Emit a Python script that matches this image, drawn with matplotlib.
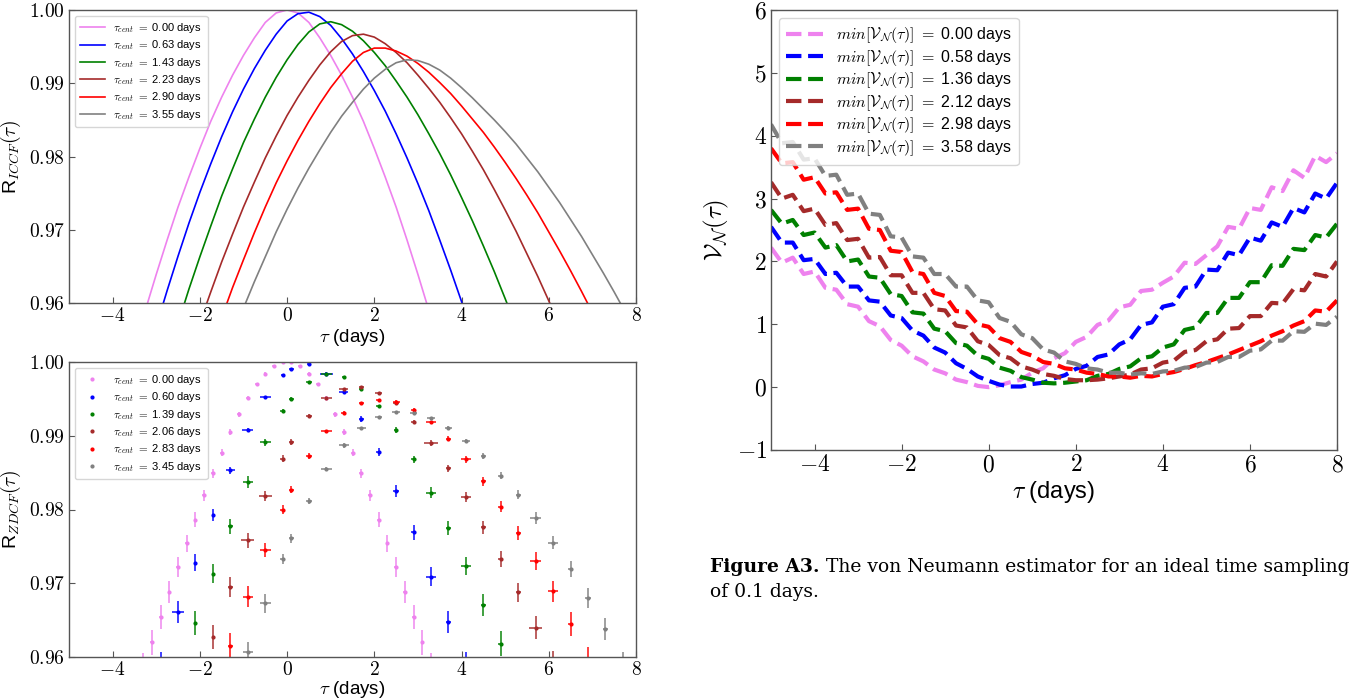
import numpy as np
import matplotlib
matplotlib.use("Agg")
import matplotlib.pyplot as plt
from matplotlib.ticker import FuncFormatter
from matplotlib.lines import Line2D

plt.rcParams['mathtext.fontset'] = 'cm'
plt.rcParams['font.family'] = ['Liberation Sans', 'DejaVu Sans']

colors = ['violet', 'blue', 'green', 'brown', 'red', 'gray']

# ---------------- ICCF (top-left) ----------------
iccf_labels = ['0.00', '0.63', '1.43', '2.23', '2.90', '3.55']
iccf_x_pink = [-3.5, -3.25, -3.0, -2.75, -2.5, -2.25, -2.0, -1.75, -1.5, -1.25, -1.0, -0.75, -0.5, -0.25,
               0.0, 0.25, 0.5, 0.75, 1.0, 1.25, 1.5, 1.75, 2.0, 2.25, 2.5, 2.75, 3.0, 3.25, 3.5]
iccf_y_pink = [0.9538, 0.9590, 0.9639, 0.9686, 0.9731, 0.9772, 0.9811, 0.9848, 0.9881, 0.9911, 0.9938, 0.9962, 0.9983, 0.9996,
               1.0000, 0.9996, 0.9983, 0.9962, 0.9938, 0.9911, 0.9881, 0.9848, 0.9811, 0.9772, 0.9731, 0.9686, 0.9639, 0.9590, 0.9538]
iccf_x_blue = [-3.0, -2.75, -2.5, -2.25, -2.0, -1.75, -1.5, -1.25, -1.0, -0.75, -0.5, -0.25, 0.0, 0.25, 0.5, 0.75,
               1.0, 1.25, 1.5, 1.75, 2.0, 2.25, 2.5, 2.75, 3.0, 3.25, 3.5, 3.75, 4.0, 4.25]
iccf_y_blue = [0.9568, 0.9617, 0.9664, 0.9709, 0.9751, 0.9790, 0.9827, 0.9861, 0.9892, 0.9920, 0.9945, 0.9967, 0.9985, 0.9995, 0.9997, 0.9991,
               0.9979, 0.9961, 0.9940, 0.9916, 0.9890, 0.9862, 0.9831, 0.9798, 0.9763, 0.9726, 0.9686, 0.9645, 0.9602, 0.9557]
iccf_x_green = [-2.5, -2.25, -2.0, -1.75, -1.5, -1.25, -1.0, -0.75, -0.5, -0.25, 0.0, 0.25, 0.5, 0.75, 1.0,
                1.25, 1.5, 1.75, 2.0, 2.25, 2.5, 2.75, 3.0, 3.25, 3.5, 3.75, 4.0, 4.25, 4.5, 4.75, 5.0, 5.25]
iccf_y_green = [0.9572, 0.9619, 0.9663, 0.9705, 0.9746, 0.9783, 0.9819, 0.9851, 0.9881, 0.9908, 0.9932, 0.9953, 0.9970, 0.9981, 0.9984,
                0.9980, 0.9971, 0.9958, 0.9942, 0.9924, 0.9903, 0.9881, 0.9857, 0.9831, 0.9804, 0.9775, 0.9744, 0.9712, 0.9678, 0.9643, 0.9606, 0.9568]
iccf_x_brown = [-2.0, -1.75, -1.5, -1.25, -1.0, -0.75, -0.5, -0.25, 0.0, 0.25, 0.5, 0.75, 1.0, 1.25, 1.5,
                1.75, 2.0, 2.25, 2.5, 2.75, 3.0, 3.25, 3.5, 3.75, 4.0, 4.25, 4.5, 4.75, 5.0, 5.25, 5.5, 5.75, 6.0, 6.25]
iccf_y_brown = [0.9573, 0.9615, 0.9656, 0.9694, 0.9731, 0.9765, 0.9798, 0.9828, 0.9856, 0.9881, 0.9904, 0.9925, 0.9943, 0.9957, 0.9965,
                0.9967, 0.9963, 0.9954, 0.9942, 0.9928, 0.9911, 0.9893, 0.9874, 0.9853, 0.9831, 0.9807, 0.9782, 0.9755, 0.9727, 0.9698, 0.9667, 0.9636, 0.9603, 0.9569]
iccf_x_red = [-1.5, -1.25, -1.0, -0.75, -0.5, -0.25, 0.0, 0.25, 0.5, 0.75, 1.0, 1.25, 1.5, 1.75, 2.0,
              2.25, 2.5, 2.75, 3.0, 3.25, 3.5, 3.75, 4.0, 4.25, 4.5, 4.75, 5.0, 5.25, 5.5, 5.75, 6.0, 6.25, 6.5, 6.75, 7.0, 7.25]
iccf_y_red = [0.9580, 0.9621, 0.9659, 0.9696, 0.9731, 0.9764, 0.9794, 0.9822, 0.9848, 0.9872, 0.9894, 0.9913, 0.9930, 0.9942, 0.9948,
              0.9948, 0.9944, 0.9937, 0.9927, 0.9915, 0.9901, 0.9886, 0.9869, 0.9851, 0.9833, 0.9813, 0.9792, 0.9770, 0.9747, 0.9723, 0.9697, 0.9671, 0.9644, 0.9616, 0.9587, 0.9557]
iccf_x_gray = [-1.25, -1.0, -0.75, -0.5, -0.25, 0.0, 0.25, 0.5, 0.75, 1.0, 1.25, 1.5, 1.75, 2.0, 2.25, 2.5,
               2.75, 3.0, 3.25, 3.5, 3.75, 4.0, 4.25, 4.5, 4.75, 5.0, 5.25, 5.5, 5.75, 6.0, 6.25, 6.5, 6.75, 7.0, 7.25, 7.5, 7.75, 8.0]
iccf_y_gray = [0.9555, 0.9593, 0.9629, 0.9663, 0.9697, 0.9728, 0.9757, 0.9784, 0.9809, 0.9833, 0.9855, 0.9874, 0.9892, 0.9907, 0.9919, 0.9928,
               0.9932, 0.9931, 0.9926, 0.9918, 0.9907, 0.9894, 0.9880, 0.9865, 0.9850, 0.9834, 0.9817, 0.9798, 0.9779, 0.9758, 0.9737, 0.9714, 0.9691, 0.9666, 0.9641, 0.9615, 0.9588, 0.9560]

# ---------------- ZDCF (bottom-left) ----------------
zdcf_labels = ['0.00', '0.60', '1.39', '2.06', '2.83', '3.45']
z_x_pink = [-3.3, -3.1, -2.9, -2.7, -2.5, -2.3, -2.1, -1.9, -1.7, -1.5, -1.3, -1.1, -0.9, -0.7, -0.5, -0.3, -0.1,
            0.1, 0.3, 0.5, 0.7, 0.9, 1.1, 1.3, 1.5, 1.7, 1.9, 2.1, 2.3, 2.5, 2.7, 2.9, 3.1, 3.3]
z_y_pink = [0.9588, 0.9620, 0.9654, 0.9688, 0.9722, 0.9754, 0.9786, 0.9819, 0.9849, 0.9877, 0.9905, 0.9929, 0.9951, 0.9970, 0.9984, 0.9995, 1.0000,
            1.0000, 0.9995, 0.9984, 0.9970, 0.9951, 0.9929, 0.9905, 0.9877, 0.9849, 0.9819, 0.9786, 0.9754, 0.9722, 0.9688, 0.9654, 0.9620, 0.9588]
z_ye_pink = [0.0018, 0.0017, 0.0016, 0.0015, 0.0014, 0.0012, 0.0010, 0.0008, 0.0006, 0.0005, 0.0004, 0.0003, 0.0003, 0.0002, 0.0002, 0.0001, 0.0001,
             0.0001, 0.0001, 0.0002, 0.0002, 0.0003, 0.0003, 0.0004, 0.0005, 0.0006, 0.0008, 0.0010, 0.0012, 0.0014, 0.0015, 0.0016, 0.0017, 0.0018]
z_xe_pink = [0.04] * 34

z_x_blue = [-2.9, -2.5, -2.1, -1.7, -1.3, -0.9, -0.5, -0.1, 0.1, 0.5, 0.9, 1.3, 1.7, 2.1, 2.5, 2.9, 3.3, 3.7, 4.1]
z_y_blue = [0.9590, 0.9661, 0.9728, 0.9793, 0.9853, 0.9908, 0.9952, 0.9982, 0.9991, 0.9997, 0.9984, 0.9959, 0.9923, 0.9878, 0.9825, 0.9769, 0.9709, 0.9647, 0.9590]
z_ye_blue = [0.0017, 0.0015, 0.0012, 0.0008, 0.0005, 0.0003, 0.0002, 0.0001, 0.0001, 0.0001, 0.0002, 0.0003, 0.0004, 0.0006, 0.0008, 0.0010, 0.0013, 0.0015, 0.0017]
z_xe_blue = [0.05, 0.14, 0.02, 0.02, 0.10, 0.13, 0.13, 0.05, 0.05, 0.05, 0.15, 0.10, 0.06, 0.06, 0.06, 0.06, 0.12, 0.06, 0.06]

z_x_green = [-2.1, -1.7, -1.3, -0.9, -0.5, -0.1, 0.1, 0.5, 0.9, 1.3, 1.7, 2.1, 2.5, 2.9, 3.3, 3.7, 4.1, 4.5, 4.9]
z_y_green = [0.9646, 0.9713, 0.9777, 0.9837, 0.9891, 0.9934, 0.9950, 0.9973, 0.9984, 0.9979, 0.9963, 0.9940, 0.9908, 0.9868, 0.9823, 0.9775, 0.9723, 0.9671, 0.9618]
z_ye_green = [0.0016, 0.0013, 0.0010, 0.0008, 0.0005, 0.0002, 0.0002, 0.0001, 0.0001, 0.0001, 0.0001, 0.0002, 0.0004, 0.0005, 0.0007, 0.0009, 0.0012, 0.0015, 0.0017]
z_xe_green = [0.02, 0.02, 0.05, 0.12, 0.12, 0.06, 0.05, 0.06, 0.12, 0.05, 0.05, 0.05, 0.05, 0.06, 0.12, 0.05, 0.12, 0.05, 0.06]

z_x_brown = [-1.7, -1.3, -0.9, -0.5, -0.1, 0.1, 0.5, 0.9, 1.3, 1.7, 2.1, 2.5, 2.9, 3.3, 3.7, 4.1, 4.5, 4.9, 5.3, 5.7, 6.1]
z_y_brown = [0.9627, 0.9695, 0.9758, 0.9818, 0.9869, 0.9891, 0.9927, 0.9951, 0.9964, 0.9966, 0.9958, 0.9944, 0.9919, 0.9890, 0.9856, 0.9817, 0.9776, 0.9733, 0.9688, 0.9640, 0.9590]
z_ye_brown = [0.0016, 0.0013, 0.0010, 0.0007, 0.0005, 0.0004, 0.0002, 0.0001, 0.0001, 0.0001, 0.0001, 0.0002, 0.0003, 0.0004, 0.0005, 0.0007, 0.0009, 0.0011, 0.0013, 0.0016, 0.0018]
z_xe_brown = [0.02, 0.06, 0.15, 0.15, 0.06, 0.05, 0.06, 0.13, 0.10, 0.06, 0.08, 0.06, 0.06, 0.15, 0.06, 0.12, 0.05, 0.06, 0.06, 0.15, 0.06]

z_x_red = [-1.3, -0.9, -0.5, -0.1, 0.1, 0.5, 0.9, 1.3, 1.7, 2.1, 2.5, 2.9, 3.3, 3.7, 4.1, 4.5, 4.9, 5.3, 5.7, 6.1, 6.5, 6.9]
z_y_red = [0.9615, 0.9682, 0.9745, 0.9800, 0.9827, 0.9872, 0.9906, 0.9931, 0.9944, 0.9949, 0.9946, 0.9935, 0.9918, 0.9896, 0.9868, 0.9838, 0.9804, 0.9768, 0.9730, 0.9689, 0.9645, 0.9595]
z_ye_red = [0.0017, 0.0014, 0.0010, 0.0006, 0.0005, 0.0004, 0.0002, 0.0002, 0.0001, 0.0001, 0.0002, 0.0002, 0.0002, 0.0003, 0.0005, 0.0006, 0.0007, 0.0010, 0.0012, 0.0014, 0.0016, 0.0018]
z_xe_red = [0.06, 0.12, 0.12, 0.06, 0.05, 0.06, 0.13, 0.06, 0.06, 0.06, 0.08, 0.06, 0.12, 0.05, 0.12, 0.05, 0.06, 0.06, 0.12, 0.12, 0.06, 0.06]

z_x_gray = [-0.9, -0.5, -0.1, 0.1, 0.5, 0.9, 1.3, 1.7, 2.1, 2.5, 2.9, 3.3, 3.7, 4.1, 4.5, 4.9, 5.3, 5.7, 6.1, 6.5, 6.9, 7.3, 7.7]
z_y_gray = [0.9607, 0.9673, 0.9733, 0.9761, 0.9812, 0.9855, 0.9887, 0.9910, 0.9925, 0.9932, 0.9931, 0.9924, 0.9911, 0.9893, 0.9872, 0.9846, 0.9820, 0.9789, 0.9755, 0.9719, 0.9680, 0.9638, 0.9590]
z_ye_gray = [0.0013, 0.0013, 0.0007, 0.0006, 0.0004, 0.0002, 0.0003, 0.0002, 0.0002, 0.0001, 0.0001, 0.0002, 0.0002, 0.0003, 0.0004, 0.0005, 0.0006, 0.0008, 0.0009, 0.0011, 0.0013, 0.0015, 0.0017]
z_xe_gray = [0.12, 0.13, 0.06, 0.06, 0.06, 0.13, 0.12, 0.10, 0.08, 0.10, 0.08, 0.10, 0.08, 0.10, 0.05, 0.06, 0.06, 0.12, 0.12, 0.06, 0.06, 0.05, 0.05]

# ---------------- von Neumann (right) ----------------
vn_labels = ['0.00', '0.58', '1.36', '2.12', '2.98', '3.58']
vn_tau = [-5.0, -4.75, -4.5, -4.25, -4.0, -3.75, -3.5, -3.25, -3.0, -2.75, -2.5, -2.25, -2.0, -1.75, -1.5, -1.25,
          -1.0, -0.75, -0.5, -0.25, 0.0, 0.25, 0.5, 0.75, 1.0, 1.25, 1.5, 1.75, 2.0, 2.25, 2.5, 2.75, 3.0, 3.25,
          3.5, 3.75, 4.0, 4.25, 4.5, 4.75, 5.0, 5.25, 5.5, 5.75, 6.0, 6.25, 6.5, 6.75, 7.0, 7.25, 7.5, 7.75, 8.0]
vn_pink = [2.22, 1.98, 2.06, 1.80, 1.84, 1.58, 1.55, 1.32, 1.28, 1.05, 0.97, 0.75, 0.66, 0.49, 0.41, 0.28, 0.22, 0.12,
           0.08, 0.02, 0.00, 0.03, 0.08, 0.12, 0.23, 0.30, 0.46, 0.54, 0.72, 0.80, 0.99, 1.06, 1.27, 1.31, 1.53, 1.55,
           1.66, 1.76, 1.98, 1.96, 2.10, 2.24, 2.55, 2.52, 2.85, 2.82, 3.18, 3.12, 3.45, 3.33, 3.68, 3.58, 3.72]
vn_blue = [2.55, 2.30, 2.30, 2.02, 2.04, 1.80, 1.82, 1.60, 1.60, 1.38, 1.36, 1.14, 1.10, 0.90, 0.82, 0.63, 0.55, 0.38,
           0.29, 0.17, 0.10, 0.04, 0.01, 0.01, 0.05, 0.07, 0.14, 0.19, 0.29, 0.34, 0.48, 0.52, 0.68, 0.76, 0.99, 1.03,
           1.28, 1.32, 1.58, 1.60, 1.87, 1.86, 2.14, 2.10, 2.38, 2.33, 2.62, 2.55, 2.85, 2.78, 3.08, 3.00, 3.25]
vn_green = [2.82, 2.60, 2.66, 2.42, 2.46, 2.22, 2.26, 2.00, 2.03, 1.76, 1.74, 1.48, 1.45, 1.19, 1.17, 0.93, 0.89, 0.70,
            0.66, 0.50, 0.45, 0.31, 0.26, 0.16, 0.12, 0.07, 0.06, 0.07, 0.09, 0.11, 0.18, 0.21, 0.29, 0.33, 0.46, 0.49,
            0.63, 0.68, 0.91, 0.95, 1.18, 1.18, 1.42, 1.42, 1.67, 1.67, 1.94, 1.93, 2.20, 2.18, 2.42, 2.38, 2.60]
vn_brown = [3.26, 3.00, 3.06, 2.80, 2.84, 2.58, 2.61, 2.34, 2.36, 2.06, 2.07, 1.78, 1.78, 1.50, 1.50, 1.24, 1.22, 0.98,
            0.95, 0.73, 0.67, 0.51, 0.46, 0.33, 0.28, 0.21, 0.18, 0.13, 0.11, 0.11, 0.12, 0.14, 0.17, 0.20, 0.28, 0.30,
            0.39, 0.42, 0.56, 0.59, 0.73, 0.76, 0.93, 0.94, 1.13, 1.13, 1.34, 1.33, 1.56, 1.54, 1.80, 1.76, 2.00]
vn_red = [3.80, 3.56, 3.58, 3.30, 3.34, 3.08, 3.10, 2.82, 2.84, 2.52, 2.50, 2.17, 2.15, 1.83, 1.80, 1.50, 1.45, 1.21,
          1.20, 1.00, 0.96, 0.78, 0.72, 0.56, 0.50, 0.40, 0.37, 0.30, 0.28, 0.23, 0.21, 0.17, 0.17, 0.15, 0.18, 0.17,
          0.21, 0.24, 0.29, 0.35, 0.40, 0.46, 0.52, 0.59, 0.66, 0.73, 0.82, 0.89, 0.98, 1.05, 1.22, 1.20, 1.38]
vn_gray = [4.18, 3.88, 3.90, 3.62, 3.64, 3.36, 3.38, 3.06, 3.08, 2.76, 2.74, 2.40, 2.38, 2.08, 2.06, 1.80, 1.80, 1.60,
           1.60, 1.38, 1.35, 1.10, 1.04, 0.84, 0.78, 0.60, 0.55, 0.41, 0.37, 0.30, 0.28, 0.23, 0.23, 0.20, 0.22, 0.21,
           0.25, 0.26, 0.31, 0.32, 0.39, 0.40, 0.48, 0.48, 0.58, 0.60, 0.74, 0.74, 0.89, 0.88, 1.01, 0.99, 1.12]

caption_bold = 'Figure A3.'
caption_rest1 = ' The von Neumann estimator for an ideal time sampling'
caption_rest2 = 'of 0.1 days.'

# ---------------- figure ----------------
W, H = 1367, 700
fig = plt.figure(figsize=(W / 100, H / 100), dpi=100)

def px_axes(l, t, r, b):
    return fig.add_axes([l / W, 1 - b / H, (r - l) / W, (b - t) / H])

ax1 = px_axes(69, 10, 636, 303)
ax2 = px_axes(69, 362, 636, 657)
ax3 = px_axes(771, 10, 1337, 450)

spine_col = '#555555'
mfmt2 = FuncFormatter(lambda v, p: r'$%.2f$' % v)
mfmt0 = FuncFormatter(lambda v, p: r'$%d$' % round(v))

def style(ax, fs):
    for s in ax.spines.values():
        s.set_color(spine_col)
        s.set_linewidth(1.0)
    ax.tick_params(direction='in', labelsize=fs, color=spine_col, length=4, pad=3)
    ax.set_xlim(-5, 8)
    ax.set_xticks([-4, -2, 0, 2, 4, 6, 8])
    ax.xaxis.set_major_formatter(mfmt0)

leg_kw = dict(loc='upper left', fontsize=8, handlelength=2.2, borderpad=0.5, labelspacing=0.3,
              handletextpad=0.8, framealpha=0.8)

# top-left
iccf_xs = [iccf_x_pink, iccf_x_blue, iccf_x_green, iccf_x_brown, iccf_x_red, iccf_x_gray]
iccf_ys = [iccf_y_pink, iccf_y_blue, iccf_y_green, iccf_y_brown, iccf_y_red, iccf_y_gray]
for xs, ys, c, lab in zip(iccf_xs, iccf_ys, colors, iccf_labels):
    ax1.plot(xs, ys, color=c, lw=1.2, label=r'$\tau_{cent}$ $=$ ' + lab + ' days')
style(ax1, 14)
ax1.set_ylim(0.96, 1.00)
ax1.set_yticks([0.96, 0.97, 0.98, 0.99, 1.00])
ax1.yaxis.set_major_formatter(mfmt2)
ax1.set_ylabel(r'R$_{ICCF}(\tau)$', fontsize=14, labelpad=4)
ax1.set_xlabel(r'$\tau$ (days)', fontsize=13.5, labelpad=1)
ax1.legend(**leg_kw)

# bottom-left
zx = [z_x_pink, z_x_blue, z_x_green, z_x_brown, z_x_red, z_x_gray]
zy = [z_y_pink, z_y_blue, z_y_green, z_y_brown, z_y_red, z_y_gray]
zye = [z_ye_pink, z_ye_blue, z_ye_green, z_ye_brown, z_ye_red, z_ye_gray]
zxe = [z_xe_pink, z_xe_blue, z_xe_green, z_xe_brown, z_xe_red, z_xe_gray]
handles = []
for xs, ys, ye, xe, c, lab in zip(zx, zy, zye, zxe, colors, zdcf_labels):
    ec = matplotlib.colors.to_rgba(c, 0.75)
    ax2.errorbar(xs, ys, yerr=ye, xerr=xe, fmt='.', color=c, ecolor=ec, elinewidth=1.4,
                 markersize=4, capsize=0)
    handles.append(Line2D([], [], ls='none', marker='.', color=c, markersize=4,
                          label=r'$\tau_{cent}$ $=$ ' + lab + ' days'))
style(ax2, 14)
ax2.set_ylim(0.96, 1.00)
ax2.set_yticks([0.96, 0.97, 0.98, 0.99, 1.00])
ax2.yaxis.set_major_formatter(mfmt2)
ax2.set_ylabel(r'R$_{ZDCF}(\tau)$', fontsize=14, labelpad=4)
ax2.set_xlabel(r'$\tau$ (days)', fontsize=13.5, labelpad=0)
ax2.legend(handles=handles, **leg_kw)

# right
vn_ys = [vn_pink, vn_blue, vn_green, vn_brown, vn_red, vn_gray]
for ys, c, lab in zip(vn_ys, colors, vn_labels):
    ax3.plot(vn_tau, ys, color=c, lw=3, ls='--',
             label=r'$min[\mathcal{V}_{\mathcal{N}}(\tau)]$ $=$ ' + lab + ' days')
style(ax3, 17)
ax3.set_ylim(-1, 6)
ax3.set_yticks(range(-1, 7))
ax3.yaxis.set_major_formatter(mfmt0)
ax3.set_ylabel(r'$\mathcal{V}_{\mathcal{N}}(\tau)$', fontsize=18, labelpad=4)
ax3.set_xlabel(r'$\tau$ (days)', fontsize=17, labelpad=2)
ax3.legend(loc='upper left', fontsize=11.5, handlelength=2.3, borderpad=0.45, labelspacing=0.16,
           handletextpad=0.8, framealpha=0.8)

# caption
r = fig.canvas.get_renderer()
t1 = fig.text(710 / W, 1 - 572 / H, caption_bold, fontsize=13.5, family='DejaVu Serif',
              fontweight='bold', va='baseline', ha='left')
bb = t1.get_window_extent(renderer=r)
fig.text(bb.x1 / W, 1 - 572 / H, caption_rest1, fontsize=13.5, family='DejaVu Serif',
         va='baseline', ha='left')
fig.text(710 / W, 1 - 597 / H, caption_rest2, fontsize=13.5, family='DejaVu Serif',
         va='baseline', ha='left')

fig.savefig('out.png', dpi=100)
